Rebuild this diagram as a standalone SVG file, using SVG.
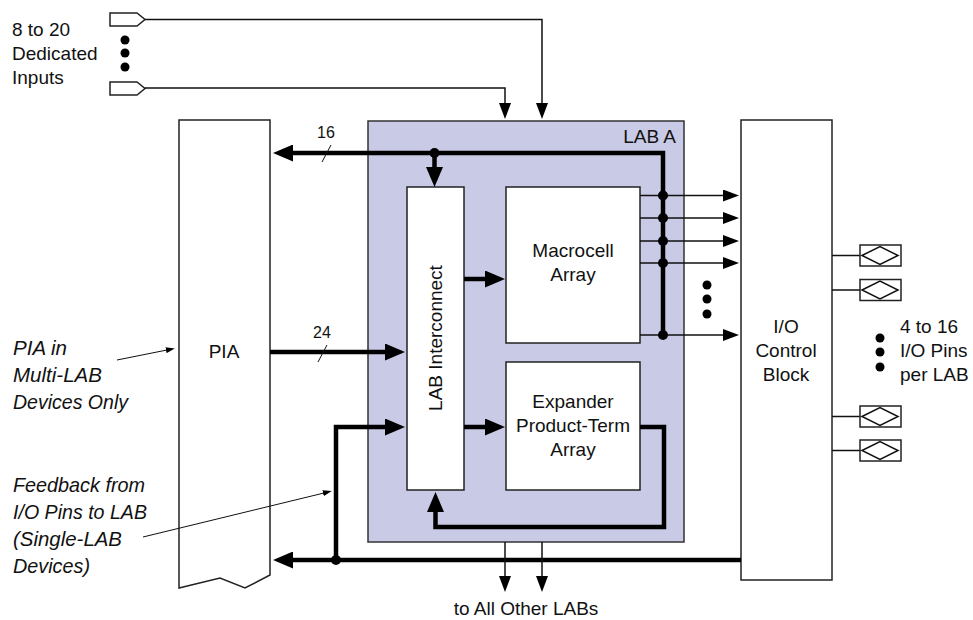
<svg xmlns="http://www.w3.org/2000/svg" width="973" height="620" viewBox="0 0 973 620">
<style>
text{font-family:"Liberation Sans",Arial,sans-serif;font-size:19px;fill:#111}
.it{font-style:italic;font-size:21px}
.sm{font-size:16px}
.mid{text-anchor:middle}
.box{fill:#fff;stroke:#222;stroke-width:1.5}
.thin{fill:none;stroke:#111;stroke-width:1.5}
.thick{fill:none;stroke:#000;stroke-width:4.5;stroke-linejoin:miter}
.hair{fill:none;stroke:#111;stroke-width:1}
.dot{fill:#000}
</style>
<defs>
<marker id="ak" markerUnits="userSpaceOnUse" markerWidth="20" markerHeight="17" refX="1" refY="8.5" orient="auto"><path d="M0,0 L20,8.5 L0,17 Z" fill="#000"/></marker>
<marker id="at" markerUnits="userSpaceOnUse" markerWidth="16" markerHeight="12" refX="1" refY="6" orient="auto"><path d="M0,0 L16,6 L0,12 Z" fill="#000"/></marker>
<marker id="ap" markerUnits="userSpaceOnUse" markerWidth="9" markerHeight="6" refX="1" refY="3" orient="auto"><path d="M0,0 L9,3 L0,6 Z" fill="#000"/></marker>
</defs>

<g id="lab-a">
<rect x="368" y="121" width="316" height="421" fill="#c8cae6" stroke="#333" stroke-width="1.5"/>
<text x="676" y="143" text-anchor="end">LAB A</text>
</g>

<g id="pia">
<path class="box" d="M179,120 L270,120 L270,575 L245,588 L220,578 L179,588 Z"/>
<text x="224" y="358" class="mid">PIA</text>
</g>

<g id="lab-interconnect">
<rect class="box" x="407" y="187" width="57" height="303"/>
<text x="442" y="338" class="mid" transform="rotate(-90 442 338)">LAB Interconnect</text>
</g>

<g id="macrocell-array">
<rect class="box" x="506" y="187" width="134" height="156"/>
<text x="573" y="257" class="mid">Macrocell</text>
<text x="573" y="281" class="mid">Array</text>
</g>

<g id="expander">
<rect class="box" x="506" y="362" width="134" height="128"/>
<text x="573" y="408" class="mid">Expander</text>
<text x="573" y="432" class="mid">Product-Term</text>
<text x="573" y="456" class="mid">Array</text>
</g>

<g id="io-control">
<rect class="box" x="741" y="120" width="91" height="460"/>
<text x="786" y="333" class="mid">I/O</text>
<text x="786" y="357" class="mid">Control</text>
<text x="786" y="381" class="mid">Block</text>
</g>

<g id="dedicated-inputs">
<path class="box" d="M110,13 L137,13 L145,19.5 L137,26 L110,26 Z"/>
<path class="box" d="M110,82 L137,82 L145,88.5 L137,95 L110,95 Z"/>
<circle class="dot" cx="125" cy="40" r="4.5"/>
<circle class="dot" cx="125" cy="53" r="4.5"/>
<circle class="dot" cx="125" cy="67" r="4.5"/>
<text x="12" y="36">8 to 20</text>
<text x="12" y="60">Dedicated</text>
<text x="12" y="84">Inputs</text>
</g>

<g id="io-pins">
<path class="thin" d="M832,255.5 H860 M832,290 H860 M832,416.5 H860 M832,450.5 H860"/>
<rect class="box" x="860" y="245" width="41" height="21"/>
<path class="thin" d="M862,255.5 L880,246.5 L898,255.5 L880,264.5 Z"/>
<rect class="box" x="860" y="279.5" width="41" height="21"/>
<path class="thin" d="M862,290 L880,281 L898,290 L880,299 Z"/>
<rect class="box" x="860" y="406" width="41" height="21"/>
<path class="thin" d="M862,416.5 L880,407.5 L898,416.5 L880,425.5 Z"/>
<rect class="box" x="860" y="440" width="41" height="21"/>
<path class="thin" d="M862,450.5 L880,441.5 L898,450.5 L880,459.5 Z"/>
<circle class="dot" cx="880" cy="338" r="4.5"/>
<circle class="dot" cx="880" cy="352" r="4.5"/>
<circle class="dot" cx="880" cy="367" r="4.5"/>
<text x="900" y="333">4 to 16</text>
<text x="900" y="357">I/O Pins</text>
<text x="900" y="381">per LAB</text>
</g>

<g id="labels">
<text x="13" y="355" class="it" textLength="54" lengthAdjust="spacingAndGlyphs">PIA in</text>
<text x="13" y="382" class="it" textLength="89" lengthAdjust="spacingAndGlyphs">Multi-LAB</text>
<text x="13" y="409" class="it" textLength="115" lengthAdjust="spacingAndGlyphs">Devices Only</text>
<text x="13" y="492" class="it" textLength="132" lengthAdjust="spacingAndGlyphs">Feedback from</text>
<text x="13" y="519" class="it" textLength="134" lengthAdjust="spacingAndGlyphs">I/O Pins to LAB</text>
<text x="13" y="546" class="it" textLength="109" lengthAdjust="spacingAndGlyphs">(Single-LAB</text>
<text x="13" y="573" class="it" textLength="77" lengthAdjust="spacingAndGlyphs">Devices)</text>
<text x="526" y="615" class="mid">to All Other LABs</text>
<text x="326" y="138" class="sm mid">16</text>
<text x="322" y="338" class="sm mid">24</text>
</g>

<g id="connectors">
<path class="thin" d="M145,19.5 H542 V104" marker-end="url(#at)"/>
<path class="thin" d="M145,88 H505 V104" marker-end="url(#at)"/>
<path class="thick" d="M663,335 V153 H292" marker-end="url(#ak)"/>
<path class="thick" d="M434.5,153 V168" marker-end="url(#ak)"/>
<circle class="dot" cx="434.5" cy="153" r="5"/>
<path class="hair" d="M322,162 L331,145" stroke-width="1.3"/>
<path class="thin" d="M640,195.5 H724" marker-end="url(#at)"/>
<path class="thin" d="M640,218 H724" marker-end="url(#at)"/>
<path class="thin" d="M640,241 H724" marker-end="url(#at)"/>
<path class="thin" d="M640,263 H724" marker-end="url(#at)"/>
<path class="thin" d="M640,335 H724" marker-end="url(#at)"/>
<circle class="dot" cx="663" cy="195.5" r="5"/>
<circle class="dot" cx="663" cy="218" r="5"/>
<circle class="dot" cx="663" cy="241" r="5"/>
<circle class="dot" cx="663" cy="263" r="5"/>
<circle class="dot" cx="663" cy="335" r="5"/>
<circle class="dot" cx="707" cy="285" r="4.5"/>
<circle class="dot" cx="707" cy="299" r="4.5"/>
<circle class="dot" cx="707" cy="314" r="4.5"/>
<path class="thick" d="M270,352 H386" marker-end="url(#ak)"/>
<path class="hair" d="M318,362 L327,345" stroke-width="1.3"/>
<path class="thick" d="M464,279 H486" marker-end="url(#ak)"/>
<path class="thick" d="M464,427 H486" marker-end="url(#ak)"/>
<path class="thick" d="M640,427 H664 V527 H435.5 V511" marker-end="url(#ak)"/>
<path class="thick" d="M741,560 H292" marker-end="url(#ak)"/>
<path class="thick" d="M336,560 V427 H386" marker-end="url(#ak)"/>
<circle class="dot" cx="336" cy="560" r="5"/>
<path class="thin" d="M505,542 V577" marker-end="url(#at)"/>
<path class="thin" d="M542,542 V577" marker-end="url(#at)"/>
<path class="hair" d="M117,360 L167,350" marker-end="url(#ap)"/>
<path class="hair" d="M143,537 L324,493" marker-end="url(#ap)"/>
</g>
</svg>
